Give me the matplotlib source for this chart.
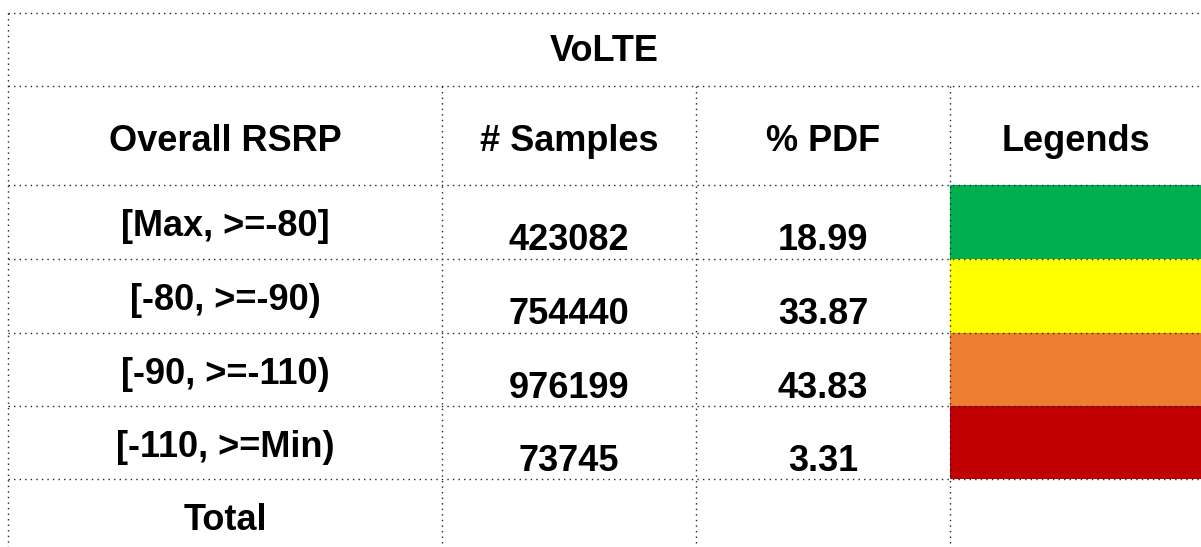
import matplotlib.pyplot as plt
from matplotlib.patches import Rectangle

title = 'VoLTE'
headers = ['Overall RSRP', '# Samples', '% PDF', 'Legends']
ranges = ['[Max, >=-80]', '[-80, >=-90)', '[-90, >=-110)', '[-110, >=Min)']
samples = [423082, 754440, 976199, 73745]
pdf = [18.99, 33.87, 43.83, 3.31]
legend_colors = ['#00B050', '#FFFF00', '#ED7D31', '#C00000']
total_label = 'Total'

# layout in pixels (figure is 1201 x 547)
W, H = 1201, 547
col_x = [8, 442, 696, 950, W]
row_y = [13, 86, 185, 259, 333, 406, 479, H]

plt.rcParams['font.family'] = ['Liberation Sans', 'DejaVu Sans']
fig = plt.figure(figsize=(W / 100, H / 100), dpi=100)
ax = fig.add_axes([0, 0, 1, 1])
ax.set_xlim(0, W)
ax.set_ylim(H, 0)
ax.axis('off')

line_kw = dict(color='#222222', lw=1.0, linestyle=(0, (1, 3)))
fs = 26
dy = 4  # va='center' sits a bit high for cap-height text


def mid(a, b):
    return (a + b) / 2


# legend colour fills
for i, c in enumerate(legend_colors):
    y0, y1 = row_y[2 + i], row_y[3 + i]
    ax.add_patch(Rectangle((col_x[3], y0), col_x[4] - col_x[3], y1 - y0,
                           facecolor=c, edgecolor='none', zorder=1))

# grid lines
for y in row_y[:-1]:
    ax.plot([col_x[0], W], [y, y], zorder=2, **line_kw)
ax.plot([col_x[0], col_x[0]], [row_y[0], H], zorder=2, **line_kw)
for x in col_x[1:4]:
    ax.plot([x, x], [row_y[1], H], zorder=2, **line_kw)

# title row
ax.text(mid(col_x[0], W), mid(row_y[0], row_y[1]) + dy - 2, title,
        ha='center', va='center', fontsize=fs, fontweight='bold')

# header row
for j, h in enumerate(headers):
    ax.text(mid(col_x[j], col_x[j + 1]), mid(row_y[1], row_y[2]) + dy + 2, h,
            ha='center', va='center', fontsize=fs, fontweight='bold')

# data rows
for i in range(len(ranges)):
    yc = mid(row_y[2 + i], row_y[3 + i]) + dy
    ax.text(mid(col_x[0], col_x[1]), yc + 1, ranges[i],
            ha='center', va='center', fontsize=fs, fontweight='bold')
    ax.text(mid(col_x[1], col_x[2]), yc + 15, str(samples[i]),
            ha='center', va='center', fontsize=fs, fontweight='bold')
    ax.text(mid(col_x[2], col_x[3]), yc + 15, f'{pdf[i]:.2f}',
            ha='center', va='center', fontsize=fs, fontweight='bold')

# total row
ax.text(mid(col_x[0], col_x[1]), mid(row_y[6], row_y[7]) + dy + 4, total_label,
        ha='center', va='center', fontsize=fs, fontweight='bold')

fig.savefig('out.png', dpi=100)
